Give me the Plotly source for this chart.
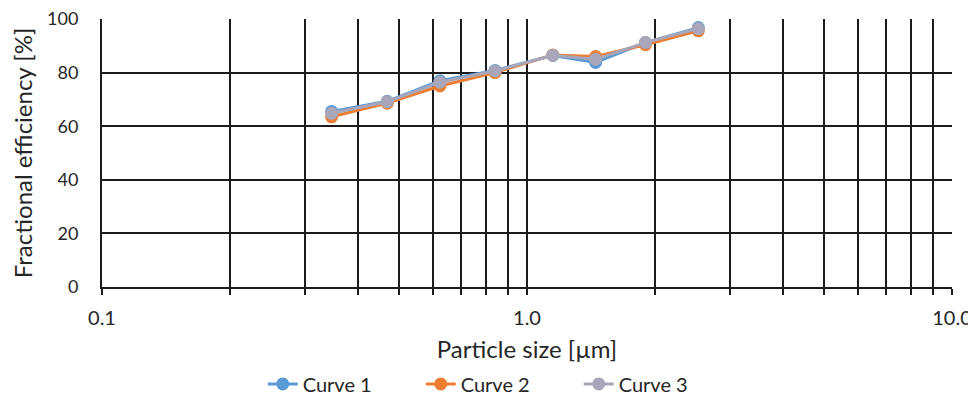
import plotly.graph_objects as go

particle_size = [0.347, 0.469, 0.624, 0.841, 1.15, 1.45, 1.9, 2.53]
curve1 = [65.5, 69.3, 77.0, 80.8, 86.4, 83.8, 91.2, 96.8]
curve2 = [63.5, 68.6, 75.0, 80.0, 86.6, 86.0, 90.4, 95.6]
curve3 = [64.8, 69.1, 76.4, 80.6, 86.5, 85.0, 91.2, 96.4]
series_names = ["Curve 1", "Curve 2", "Curve 3"]
series_colors = ["#5b9bd5", "#ed7d31", "#a8a6b8"]

x_grid = [0.1, 0.2, 0.3, 0.4, 0.5, 0.6, 0.7, 0.8, 0.9,
          1, 2, 3, 4, 5, 6, 7, 8, 9, 10]
x_labels = {0.1: "0.1", 1: "1.0", 10: "10.0"}
y_ticks = [0, 20, 40, 60, 80, 100]

font_family = "Lato, Open Sans, sans-serif"
grid_col = "#1c1c1c"

fig = go.Figure()
for name, ys, col in zip(series_names, [curve1, curve2, curve3], series_colors):
    fig.add_trace(go.Scatter(
        x=particle_size, y=ys, name=name, mode="lines+markers",
        line=dict(color=col, width=3),
        marker=dict(color=col, size=13),
    ))

fig.update_layout(
    width=968, height=390,
    margin=dict(l=94, r=24, t=11, b=111),
    paper_bgcolor="white", plot_bgcolor="white",
    font=dict(family=font_family, size=20, color="#262626"),
    showlegend=True,
    legend=dict(orientation="h", xref="container", x=0.508, xanchor="center",
                yref="container", y=0.036, yanchor="middle",
                entrywidth=113, entrywidthmode="pixels",
                font=dict(size=20)),
    xaxis=dict(
        type="log", range=[-1, 1], automargin=False,
        tickvals=x_grid,
        ticktext=[x_labels.get(v, "") for v in x_grid],
        showgrid=True, gridcolor=grid_col, gridwidth=2,
        ticks="outside", ticklen=6, tickwidth=2, tickcolor=grid_col,
        ticklabelstandoff=6, ticklabeloverflow="allow",
        showline=True, linecolor=grid_col, linewidth=2,
        zeroline=False,
        title=dict(text="Particle size [µm]", standoff=13),
        tickfont=dict(size=20),
    ),
    yaxis=dict(
        range=[0, 100], tickvals=y_ticks, automargin=False,
        showgrid=True, gridcolor=grid_col, gridwidth=2,
        showline=True, linecolor=grid_col, linewidth=2,
        ticks="", zeroline=False, ticklabelstandoff=18,
        ticklabeloverflow="allow",
        title=dict(text="Fractional efficiency [%]", standoff=14),
        tickfont=dict(size=18),
    ),
)

fig.write_html("out.html")
